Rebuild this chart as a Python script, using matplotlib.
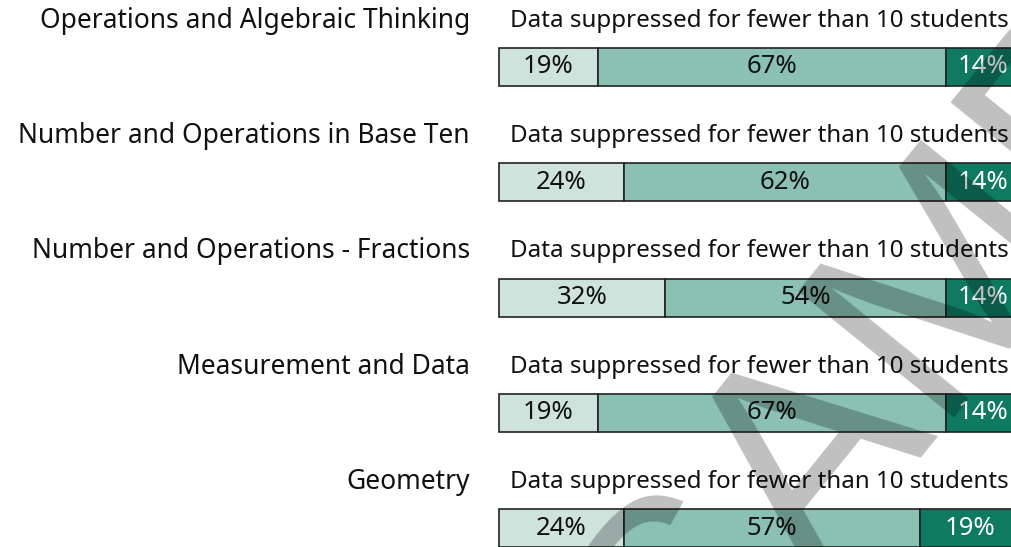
import numpy as np
import matplotlib.pyplot as plt

# Данные
domains = ['Operations and Algebraic Thinking',
           'Number and Operations in Base Ten',
           'Number and Operations - Fractions',
           'Measurement and Data',
           'Geometry']
below = [19, 24, 32, 19, 24]
meets = [67, 62, 54, 67, 57]
exceeds = [14, 14, 14, 14, 19]
note = 'Data suppressed for fewer than 10 students'

colors = ['#cfe3dd', '#8bc1b2', '#0e7a62']
text_colors = ['#111111', '#111111', '#ffffff']

plt.rcParams['font.family'] = ['Noto Sans', 'DejaVu Sans']

fig = plt.figure(figsize=(10.11, 5.47), dpi=100)
# ось баров выходит за правый край рисунка
ax = fig.add_axes([499 / 1011, 0, 520 / 1011, 1])
ax.set_xlim(0, 100)
ax.set_ylim(4.163, -0.581)
ax.axis('off')

y = np.arange(len(domains))
left = np.zeros(len(domains))
for vals, c, tc in zip([below, meets, exceeds], colors, text_colors):
    vals = np.array(vals)
    ax.barh(y, vals, left=left, height=0.33, color=c, edgecolor='#222222',
            linewidth=1.2, clip_on=False)
    for yi, l, v in zip(y, left, vals):
        ax.text(l + v / 2, yi, f'{v}%', ha='center', va='center',
                fontsize=18.5, color=tc)
    left += vals

for yi, name in zip(y, domains):
    ax.text(-5.6, yi - 0.40, name, ha='right', va='center', fontsize=19,
            color='#111111')
    ax.text(50, yi - 0.40, note, ha='center', va='center', fontsize=17.4,
            color='#111111')

# водяной знак
fig.text(0.6825, -0.329, 'SAMPLE', family='Liberation Sans', fontsize=210,
         rotation=51, rotation_mode='anchor', ha='left', va='baseline',
         color='black', alpha=0.25)

fig.savefig('out.png', dpi=100)
